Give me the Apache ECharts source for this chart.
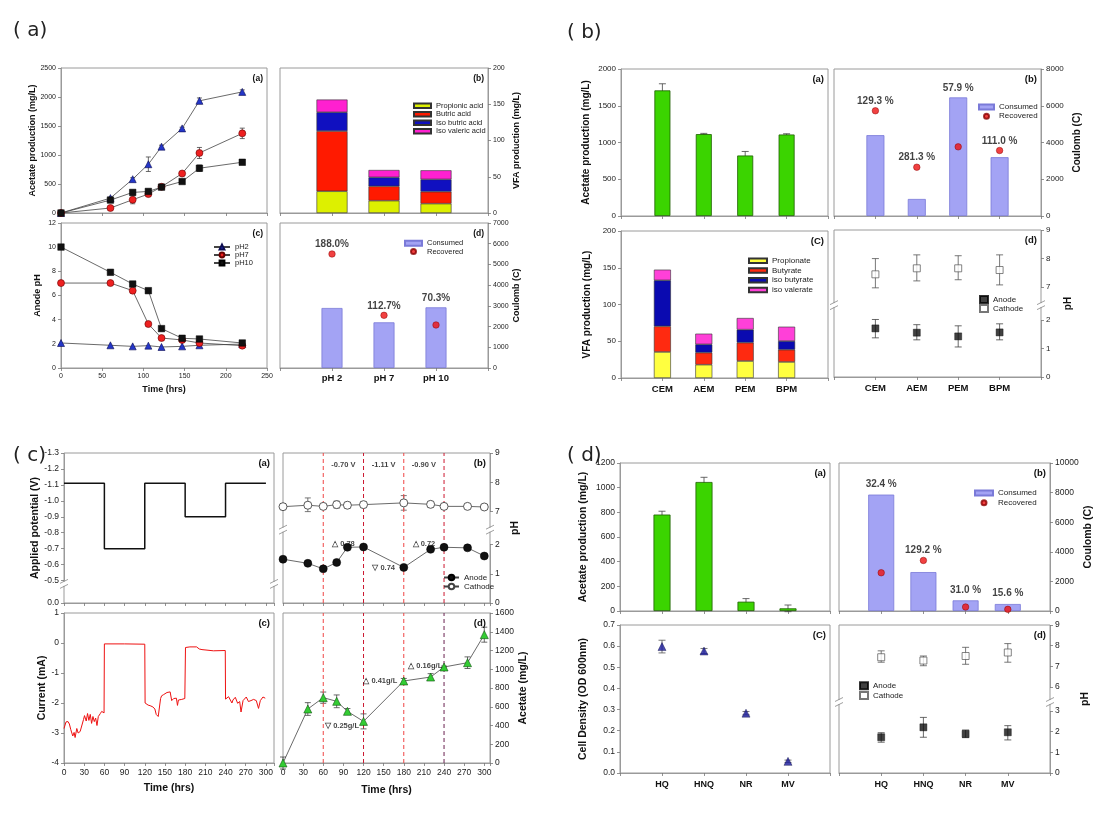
<!DOCTYPE html>
<html><head><meta charset="utf-8">
<script src="https://cdn.jsdelivr.net/npm/echarts@6.0.0/dist/echarts.min.js"></script>
<style>html,body{margin:0;padding:0;background:#fff}#c{width:1113px;height:814px}</style>
</head><body><div id="c"></div>
<script>
// ---------------- DATA: panel (a) ----------------
const aTime = [0, 60, 87, 106, 122, 147, 168, 220];
const aAcetatePH2 = [0, 257, 583, 841, 1144, 1459, 1934, 2088];
const aAcetatePH2Err = [0, 15, 25, 125, 25, 20, 50, 35];
const aAcetatePH7 = [0, 86, 229, 326, 452, 681, 1035, 1373];
const aAcetatePH7Err = [0, 10, 70, 30, 20, 25, 95, 90];
const aAcetatePH10 = [0, 223, 355, 372, 446, 543, 772, 875];
const aAcetatePH10Err = [0, 15, 20, 20, 20, 25, 55, 20];
const aAnodePH2 = [2.07, 1.88, 1.79, 1.85, 1.74, 1.79, 1.88, 1.98];
const aAnodePH7 = [7.03, 7.03, 6.4, 3.64, 2.48, 2.32, 2.07, 1.85];
const aAnodePH10 = [10.01, 7.92, 6.95, 6.4, 3.26, 2.46, 2.4, 2.07];
const aCats = ['pH 2', 'pH 7', 'pH 10'];
const aPropionic = [30, 17, 12.9];
const aButric = [83, 19.8, 16.5];
const aIsoButric = [26, 12.4, 17];
const aIsoValeric = [17.5, 10.1, 12.5];
const aConsumed = [2897, 2205, 2929];
const aRecovered = [5504, 2543, 2076];
const aPercent = ['188.0%', '112.7%', '70.3%'];

// ---------------- DATA: panel (b) ----------------
const bCats = ['CEM', 'AEM', 'PEM', 'BPM'];
const bAcetate = [1709, 1114, 823, 1109];
const bAcetateErr = [90, 10, 55, 10];
const bPropionate = [35.4, 18.1, 23.1, 21.8];
const bButyrate = [34.9, 16.4, 25, 16.7];
const bIsoButyrate = [62.6, 11.3, 17.7, 11.8];
const bIsoValerate = [14.5, 14.5, 15.8, 19.5];
const bConsumed = [4400, 927, 6455, 3200];
const bRecovered = [5727, 2655, 3764, 3564];
const bPercent = ['129.3 %', '281.3 %', '57.9 %', '111.0 %'];
const bCathode = [7.45, 7.66, 7.66, 7.6];
const bCathodeLo = [6.9, 7.22, 7.26, 7.08];
const bCathodeHi = [8.0, 8.13, 8.1, 8.13];
const bAnode = [1.70, 1.55, 1.42, 1.56];
const bAnodeLo = [1.37, 1.30, 1.05, 1.30];
const bAnodeHi = [2.05, 1.83, 1.79, 1.86];

// ---------------- DATA: panel (c) ----------------
const cPotTime = [0, 60, 60, 120, 120, 180, 180, 240, 240, 300];
const cPotential = [-1.11, -1.11, -0.70, -0.70, -1.11, -1.11, -0.90, -0.90, -1.11, -1.11];
const cCurTime = [0, 3, 6, 8, 10, 13, 15, 16.5, 19, 21, 24, 26, 29, 30.5, 33, 35, 37, 39, 41, 43, 45, 47, 49, 51, 54, 56, 59.5,
  60, 90, 120, 120.5, 125, 128, 132, 135, 137, 140, 142.5, 143.5, 145, 148, 150, 153, 155, 157.7, 160, 163, 165, 167, 168.6, 170, 175, 179.5,
  180.5, 187, 197, 201, 205, 222, 239.6, 240, 244.5, 247, 249.5, 251, 254.5, 258, 261, 263, 266, 270.8, 274, 277.8, 281.7, 285.7, 289, 291.7, 295.6, 299];
const cCurrent = [-2.85, -2.63, -2.62, -2.7, -2.88, -3.1, -2.98, -3.15, -2.85, -3.0, -2.95, -3.0, -2.55, -2.42, -2.6, -2.35, -2.58, -2.38, -2.68, -2.45, -2.62, -2.5, -2.75, -2.45, -2.35, -2.28, -2.33,
  -0.03, -0.03, -0.04, -2.0, -2.07, -2.09, -2.13, -2.2, -2.38, -2.45, -2.43, -1.85, -1.76, -1.72, -1.68, -1.65, -1.7, -1.63, -1.92, -1.85, -1.88, -1.84, -2.08, -1.9, -1.88, -1.85,
  -0.15, -0.13, -0.13, -0.2, -0.22, -0.26, -0.25, -1.87, -1.79, -1.84, -2.0, -1.9, -1.81, -2.01, -1.95, -2.3, -1.92, -1.8, -1.95, -1.92, -1.88, -1.92, -2.18, -1.92, -1.8, -1.84];
const cTime = [0, 37, 60, 80, 96, 120, 180, 220, 240, 275, 300];
const cCathode = [7.16, 7.21, 7.17, 7.23, 7.21, 7.23, 7.29, 7.24, 7.17, 7.17, 7.15];
const cCathodeErr = [0.05, 0.25, 0.05, 0.12, 0.1, 0.1, 0.25, 0.1, 0.03, 0.05, 0.08];
const cAnode = [1.50, 1.36, 1.17, 1.39, 1.91, 1.92, 1.22, 1.84, 1.91, 1.89, 1.61];
const cAcetate = [0, 576, 697, 658, 551, 444, 875, 917, 1024, 1070, 1369];
const cAcetateErr = [64, 68, 60, 68, 30, 80, 27, 36, 10, 62, 80];
const cSwitchTimes = [60, 120, 180, 240];
const cVoltNotes = ['-0.70 V', '-1.11 V', '-0.90 V'];
const cVoltNoteTime = [90, 150, 210];
const cVoltNotePH = [8.6, 8.6, 8.6];
const cPHNotes = ['\u25B3 0.78', '\u25BD 0.74', '\u25B3 0.72'];
const cPHNoteTime = [90, 150, 210];
const cPHNoteVal = [2.18, 1.2, 2.13];
const cAcNotes = ['\u25BD 0.25g/L', '\u25B3 0.41g/L', '\u25B3 0.16g/L'];
const cAcNoteTime = [88, 145, 212];
const cAcNoteVal = [395, 875, 1040];

// ---------------- DATA: panel (d) ----------------
const dCats = ['HQ', 'HNQ', 'NR', 'MV'];
const dAcetate = [782, 1046, 75.5, 21.6];
const dAcetateErr = [27, 38, 25, 27];
const dCell = [0.598, 0.577, 0.283, 0.055];
const dCellErr = [0.03, 0.012, 0.008, 0.006];
const dConsumed = [7865, 2629, 719, 472];
const dRecovered = [2584, 3416, 270, 112];
const dPercent = ['32.4 %', '129.2 %', '31.0 %', '15.6 %'];
const dCathode = [7.44, 7.28, 7.5, 7.67];
const dCathodeLo = [7.2, 7.03, 7.1, 7.2];
const dCathodeHi = [7.75, 7.5, 7.92, 8.1];
const dAnode = [1.73, 2.21, 1.89, 1.97];
const dAnodeLo = [1.49, 1.73, 1.71, 1.6];
const dAnodeHi = [1.95, 2.69, 2.08, 2.29];

// ---------------- LAYOUT ----------------
const F = '"Liberation Sans", Arial, Helvetica, sans-serif';
const G = {
  Aa: [61, 68, 206, 145], Ac: [61, 223, 206, 145], Ab: [280, 68, 208, 145], Ad: [280, 223, 208, 145],
  Ba: [621, 69, 207, 147], Bc: [621, 231, 207, 147], Bb: [834, 69, 207, 147], Bd: [834, 230, 207, 147],
  Ca: [64, 453, 210, 150], Cc: [64, 613, 210, 150], Cb: [283, 453, 207, 150], Cd: [283, 613, 207, 150],
  Da: [620, 463, 210, 148], Dc: [620, 625, 210, 148], Db: [839, 463, 211, 148], Dd: [839, 625, 211, 148]
};
const keys = Object.keys(G);
const gi = k => keys.indexOf(k);

function merge(a, b) {
  const r = Object.assign({}, a);
  for (const k in b) {
    if (b[k] && typeof b[k] === 'object' && !Array.isArray(b[k]) && a[k] && typeof a[k] === 'object' && !Array.isArray(a[k])) r[k] = merge(a[k], b[k]);
    else r[k] = b[k];
  }
  return r;
}
const padC = c => ['', ...c, ''];
const padV = v => [null, ...v, null];
const mult = (step, dec) => v => (Math.abs(v / step - Math.round(v / step)) < 1e-6 ? Number(v).toFixed(dec) : '');

function axis(k, fs, o) {
  return merge({
    gridIndex: gi(k),
    axisLine: { show: true, onZero: false, lineStyle: { color: '#9a9a9a', width: 1 } },
    axisTick: { show: true, inside: false, length: 3, lineStyle: { color: '#777', width: 0.8 } },
    splitLine: { show: false },
    axisLabel: { show: true, margin: 5, color: '#222', fontFamily: F, fontSize: fs, formatter: v => String(Math.round(v * 1e6) / 1e6) },
    nameLocation: 'middle',
    nameTextStyle: { fontFamily: F, fontWeight: 'bold', fontSize: fs + 2, color: '#111' }
  }, o);
}
function catX(k, fs, cats, showLbl, margin) {
  return axis(k, fs, { type: 'category', data: padC(cats), boundaryGap: false,
    axisTick: { interval: 0 },
    axisLabel: { show: showLbl, interval: 0, fontWeight: 'bold', fontSize: fs + 1.5, margin: margin || 6, color: '#111', formatter: v => v } });
}
// axis break whose ends sit on labelled ticks; gap given as share of the axis length
function brk(start, end, gap) {
  return { breaks: [{ start: start, end: end, gap: gap }],
    breakArea: { show: true, itemStyle: { color: 'rgba(255,255,255,0)', borderColor: 'rgba(255,255,255,0)', borderWidth: 0, opacity: 0 }, zigzagAmplitude: 0, expandOnClick: false } };
}
const breakMarks = [ // [grid key, value at break start, value at break end, where the // sits between them]
  ['Bd', 2, 7, 0.45], ['Ca', -0.5, 0, 0.15], ['Cb', 2, 7, 0.45], ['Dd', 3, 6, 0.375]
];

const xAxes = [], yAxes = [];
// panel (a)
xAxes.push(axis('Aa', 7, { type: 'value', min: 0, max: 250, interval: 50, axisLabel: { show: false } }));
yAxes.push(axis('Aa', 7, { type: 'value', min: 0, max: 2500, interval: 500, name: 'Acetate production (mg/L)', nameGap: 24 }));
xAxes.push(axis('Ac', 7, { type: 'value', min: 0, max: 250, interval: 50, name: 'Time (hrs)', nameGap: 17 }));
yAxes.push(axis('Ac', 7, { type: 'value', min: 0, max: 12, interval: 2, name: 'Anode pH', nameGap: 19 }));
xAxes.push(catX('Ab', 7, aCats, false));
yAxes.push(axis('Ab', 7, { type: 'value', position: 'right', min: 0, max: 200, interval: 50, name: 'VFA production (mg/L)', nameGap: 24 }));
xAxes.push(catX('Ad', 8, aCats, true, 5));
yAxes.push(axis('Ad', 7, { type: 'value', position: 'right', min: 0, max: 7000, interval: 1000, name: 'Coulomb (C)', nameGap: 24 }));
// panel (b)
xAxes.push(catX('Ba', 8, bCats, false));
yAxes.push(axis('Ba', 8, { type: 'value', min: 0, max: 2000, interval: 500, name: 'Acetate production (mg/L)', nameGap: 30 }));
xAxes.push(catX('Bc', 8, bCats, true, 6));
yAxes.push(axis('Bc', 8, { type: 'value', min: 0, max: 200, interval: 50, name: 'VFA production (mg/L)', nameGap: 29 }));
xAxes.push(catX('Bb', 8, bCats, false));
yAxes.push(axis('Bb', 8, { type: 'value', position: 'right', min: 0, max: 8000, interval: 2000, name: 'Coulomb (C)', nameGap: 31 }));
xAxes.push(catX('Bd', 8, bCats, true, 6));
yAxes.push(axis('Bd', 8, merge({ type: 'value', position: 'right', min: 0, max: 9, interval: 1, name: 'pH', nameGap: 22, axisLabel: { formatter: mult(1, 0) } }, brk(2, 7, '22.2%'))));
// panel (c)
xAxes.push(axis('Ca', 8.5, { type: 'value', min: 0, max: 312, interval: 30, axisLabel: { show: false } }));
yAxes.push(axis('Ca', 8.5, merge({ type: 'value', inverse: true, min: -1.3, max: 0, interval: 0.1, name: 'Applied potential (V)', nameGap: 22, axisLabel: { formatter: mult(0.1, 1) } }, brk(-0.5, 0, '15%'))));
xAxes.push(axis('Cc', 8.5, { type: 'value', min: 0, max: 312, interval: 30, name: 'Time (hrs)', nameGap: 20, axisLabel: { formatter: mult(30, 0) } }));
yAxes.push(axis('Cc', 8.5, { type: 'value', min: -4, max: 1, interval: 1, name: 'Current (mA)', nameGap: 16 }));
xAxes.push(axis('Cb', 8.5, { type: 'value', min: 0, max: 308.5, interval: 30, axisLabel: { show: false } }));
yAxes.push(axis('Cb', 8.5, merge({ type: 'value', position: 'right', min: 0, max: 9, interval: 1, name: 'pH', nameGap: 20, axisLabel: { formatter: mult(1, 0) } }, brk(2, 7, '22.2%'))));
xAxes.push(axis('Cd', 8.5, { type: 'value', min: 0, max: 308.5, interval: 30, name: 'Time (hrs)', nameGap: 22, axisLabel: { formatter: mult(30, 0) } }));
yAxes.push(axis('Cd', 8.5, { type: 'value', position: 'right', min: 0, max: 1600, interval: 200, name: 'Acetate (mg/L)', nameGap: 21 }));
// panel (d)
xAxes.push(catX('Da', 8.5, dCats, false));
yAxes.push(axis('Da', 8.5, { type: 'value', min: 0, max: 1200, interval: 200, name: 'Acetate production (mg/L)', nameGap: 31 }));
xAxes.push(catX('Dc', 7.5, dCats, true, 7));
yAxes.push(axis('Dc', 8.5, { type: 'value', min: 0, max: 0.7, interval: 0.1, name: 'Cell Density (OD 600nm)', nameGap: 31, axisLabel: { formatter: v => Number(v).toFixed(1) } }));
xAxes.push(catX('Db', 7.5, dCats, false));
yAxes.push(axis('Db', 8.5, { type: 'value', position: 'right', min: 0, max: 10000, interval: 2000, name: 'Coulomb (C)', nameGap: 29 }));
xAxes.push(catX('Dd', 7.5, dCats, true, 7));
yAxes.push(axis('Dd', 8.5, merge({ type: 'value', position: 'right', min: 0, max: 9, interval: 1, name: 'pH', nameGap: 30, axisLabel: { formatter: mult(1, 0) } }, brk(3, 6, '16.2%'))));

// ---------------- SERIES helpers ----------------
const series = [];
const on = k => ({ xAxisIndex: gi(k), yAxisIndex: gi(k) });
function errBars(k, pts, color, cap) {
  series.push(Object.assign({
    type: 'custom', z: 1, silent: true, data: pts, encode: { x: 0, y: [1, 2] },
    renderItem: (p, api) => {
      const x = api.value(0);
      const lo = api.coord([x, api.value(1)]), hi = api.coord([x, api.value(2)]);
      const c = cap || 3, st = { stroke: color || '#444', lineWidth: 0.8 };
      return { type: 'group', children: [
        { type: 'line', shape: { x1: lo[0], y1: lo[1], x2: hi[0], y2: hi[1] }, style: st },
        { type: 'line', shape: { x1: hi[0] - c, y1: hi[1], x2: hi[0] + c, y2: hi[1] }, style: st },
        { type: 'line', shape: { x1: lo[0] - c, y1: lo[1], x2: lo[0] + c, y2: lo[1] }, style: st }] };
    }
  }, on(k)));
}
const symErr = (xs, v, e) => xs.map((x, i) => [x, v[i] - e[i], v[i] + e[i]]);
const catErr = (v, e) => v.map((y, i) => [i + 1, y - e[i], y + e[i]]);
const catLoHi = (lo, hi) => lo.map((l, i) => [i + 1, l, hi[i]]);
const pairs = (xs, ys) => xs.map((x, i) => [x, ys[i]]);

const MK = {
  pH2: { symbol: 'triangle', symbolSize: 7, itemStyle: { color: '#2436c8', borderColor: '#0c0c50', borderWidth: 0.6 } },
  pH7: { symbol: 'circle', symbolSize: 7, itemStyle: { color: '#ee2020', borderColor: '#600', borderWidth: 0.6 } },
  pH10: { symbol: 'rect', symbolSize: 6.5, itemStyle: { color: '#111', borderColor: '#000', borderWidth: 0.5 } }
};
function lineS(k, name, data, mk, extra) {
  series.push(Object.assign({ type: 'line', name: name, data: data, showSymbol: true, lineStyle: { color: '#444', width: 0.8 }, z: 3 }, mk, on(k), extra || {}));
}
function stackBars(k, stack, names, arrs, colors, w) {
  names.forEach((n, i) => series.push(Object.assign({ type: 'bar', name: n, stack: stack, barWidth: w, data: padV(arrs[i]),
    itemStyle: { color: colors[i], borderColor: '#333', borderWidth: 0.6 } }, on(k))));
}
function coulomb(k, cons, rec, pct, w, dist) {
  series.push(Object.assign({ type: 'bar', name: 'Consumed', barWidth: w, data: padV(cons),
    itemStyle: { color: '#a3a3f4', borderColor: '#7a7ad8', borderWidth: 0.8 } }, on(k)));
  series.push(Object.assign({ type: 'scatter', name: 'Recovered', symbol: 'circle', symbolSize: 6.5, data: padV(rec), z: 4,
    itemStyle: { color: '#ee1111', borderColor: '#880000', borderWidth: 0.6 } }, on(k)));
  series.push(Object.assign({ type: 'scatter', symbolSize: 1, silent: true, z: 5, data: padV(cons.map((c, i) => Math.max(c, rec[i]))),
    itemStyle: { color: 'rgba(0,0,0,0)' },
    label: { show: true, position: 'top', distance: dist, formatter: p => pct[p.dataIndex - 1], fontFamily: F, fontWeight: 'bold', fontSize: 10, color: '#111' } }, on(k)));
}
function greenBars(k, vals, errs, w) {
  series.push(Object.assign({ type: 'bar', barWidth: w, data: padV(vals), z: 2,
    itemStyle: { color: '#3bd400', borderColor: '#1e5e00', borderWidth: 0.8 } }, on(k)));
  errBars(k, catErr(vals, errs), '#444', 3.5);
}
function electrodes(k, an, anLo, anHi, ca, caLo, caHi) {
  errBars(k, catLoHi(anLo, anHi), '#444', 3.5);
  errBars(k, catLoHi(caLo, caHi), '#555', 3.5);
  series.push(Object.assign({ type: 'scatter', name: 'Anode', symbol: 'rect', symbolSize: 7, data: padV(an), z: 4,
    itemStyle: { color: '#111', borderColor: '#000', borderWidth: 0.5 } }, on(k)));
  series.push(Object.assign({ type: 'scatter', name: 'Cathode', symbol: 'rect', symbolSize: 7, data: padV(ca), z: 4,
    itemStyle: { color: '#fff', borderColor: '#555', borderWidth: 0.9 } }, on(k)));
}
function notes(k, xs, ys, texts, fs) {
  series.push(Object.assign({ type: 'scatter', symbolSize: 1, silent: true, z: 6, data: pairs(xs, ys),
    itemStyle: { color: 'rgba(0,0,0,0)' },
    label: { show: true, position: 'inside', formatter: p => texts[p.dataIndex], fontFamily: F, fontWeight: 'bold', fontSize: fs, color: '#111' } }, on(k)));
}
// dashed vertical lines at the potential switch times, spanning the full value range of the axis
function switchLines(k, yMin, yMax, colors) {
  cSwitchTimes.forEach((t, i) => series.push(Object.assign({ type: 'line', silent: true, showSymbol: false, symbol: 'none', z: 1,
    data: [[t, yMin], [t, yMax]], itemStyle: { color: colors[i] }, lineStyle: { type: [4, 3], width: 1, color: colors[i] } }, on(k))));
}

// ---------------- SERIES: panel (a) ----------------
errBars('Aa', symErr(aTime, aAcetatePH2, aAcetatePH2Err), '#444', 2.5);
errBars('Aa', symErr(aTime, aAcetatePH7, aAcetatePH7Err), '#444', 2.5);
errBars('Aa', symErr(aTime, aAcetatePH10, aAcetatePH10Err), '#444', 2.5);
lineS('Aa', 'pH2', pairs(aTime, aAcetatePH2), MK.pH2);
lineS('Aa', 'pH7', pairs(aTime, aAcetatePH7), MK.pH7);
lineS('Aa', 'pH10', pairs(aTime, aAcetatePH10), MK.pH10);
lineS('Ac', 'pH2', pairs(aTime, aAnodePH2), MK.pH2);
lineS('Ac', 'pH7', pairs(aTime, aAnodePH7), MK.pH7);
lineS('Ac', 'pH10', pairs(aTime, aAnodePH10), MK.pH10);
stackBars('Ab', 'vfaA', ['Propionic acid', 'Butric acid', 'Iso butric acid', 'Iso valeric acid'],
  [aPropionic, aButric, aIsoButric, aIsoValeric], ['#ddf000', '#ff1a00', '#1010c0', '#ff20d0'], 31);
coulomb('Ad', aConsumed, aRecovered, aPercent, 21, 4);

// ---------------- SERIES: panel (b) ----------------
greenBars('Ba', bAcetate, bAcetateErr, 16);
stackBars('Bc', 'vfaB', ['Propionate', 'Butyrate', 'iso butyrate', 'iso valerate'],
  [bPropionate, bButyrate, bIsoButyrate, bIsoValerate], ['#ffff40', '#ff2a10', '#0a0ab0', '#ff40d8'], 17);
coulomb('Bb', bConsumed, bRecovered, bPercent, 18, 4);
electrodes('Bd', bAnode, bAnodeLo, bAnodeHi, bCathode, bCathodeLo, bCathodeHi);

// ---------------- SERIES: panel (c) ----------------
lineS('Ca', 'potential', pairs(cPotTime, cPotential), { showSymbol: false, symbol: 'none' }, { lineStyle: { color: '#111', width: 1.5 } });
lineS('Cc', 'current', pairs(cCurTime, cCurrent), { showSymbol: false, symbol: 'none' }, { lineStyle: { color: '#ee1111', width: 1 } });
switchLines('Cb', 0, 9, ['#f04545', '#cc1830', '#f04545', '#cc1830']);
errBars('Cb', symErr(cTime, cCathode, cCathodeErr), '#555', 3);
lineS('Cb', 'Anode ', pairs(cTime, cAnode), { symbol: 'circle', symbolSize: 8, itemStyle: { color: '#111', borderColor: '#000', borderWidth: 0.5 } });
lineS('Cb', 'Cathode ', pairs(cTime, cCathode), { symbol: 'circle', symbolSize: 8, itemStyle: { color: '#fff', borderColor: '#444', borderWidth: 0.9 } });
notes('Cb', cVoltNoteTime, cVoltNotePH, cVoltNotes, 7.5);
notes('Cb', cPHNoteTime, cPHNoteVal, cPHNotes, 7.5);
switchLines('Cd', 0, 1600, ['#f04545', '#cc1830', '#f04545', '#6a2050']);
errBars('Cd', symErr(cTime, cAcetate, cAcetateErr), '#444', 3);
lineS('Cd', 'acetateC', pairs(cTime, cAcetate), { symbol: 'triangle', symbolSize: 8, itemStyle: { color: '#33cc33', borderColor: '#125512', borderWidth: 0.6 } });
notes('Cd', cAcNoteTime, cAcNoteVal, cAcNotes, 7.5);

// ---------------- SERIES: panel (d) ----------------
greenBars('Da', dAcetate, dAcetateErr, 17);
errBars('Dc', catErr(dCell, dCellErr), '#555', 3.5);
series.push(Object.assign({ type: 'scatter', symbol: 'triangle', symbolSize: 8, data: padV(dCell), z: 4,
  itemStyle: { color: '#1a1a9c', borderColor: '#0a0a40', borderWidth: 0.5 } }, on('Dc')));
coulomb('Db', dConsumed, dRecovered, dPercent, 26, 5);
electrodes('Dd', dAnode, dAnodeLo, dAnodeHi, dCathode, dCathodeLo, dCathodeHi);

// ---------------- LEGENDS ----------------
function legend(names, left, top, lh, o) {
  return merge({ show: true, left: left, top: top, orient: 'vertical', itemGap: 0, itemWidth: 16, itemHeight: 6, padding: 0,
    data: names, selectedMode: false, formatter: n => n.trim(),
    textStyle: { fontFamily: F, fontSize: 7.5, color: '#222', lineHeight: lh, height: lh } }, o || {});
}
const cr = [{ name: 'Consumed', icon: 'rect' }, { name: 'Recovered', icon: 'circle' }];
const legends = [
  legend(['pH2', 'pH7', 'pH10'], 213, 243, 7.7, { itemHeight: 6 }),
  legend(['Propionic acid', 'Butric acid', 'Iso butric acid', 'Iso valeric acid'].map(n => ({ name: n, icon: 'rect' })), 413, 101.5, 8.5, { itemWidth: 17, itemHeight: 4.5 }),
  legend(cr, 404, 239, 8.4, { itemWidth: 17, itemHeight: 5 }),
  legend(['Propionate', 'Butyrate', 'iso butyrate', 'iso valerate'].map(n => ({ name: n, icon: 'rect' })), 748, 256, 9.7, { itemWidth: 18, itemHeight: 4.5, textStyle: { fontSize: 8 } }),
  legend(cr, 978, 102.5, 9.1, { itemWidth: 15, itemHeight: 5, textStyle: { fontSize: 8 } }),
  legend(['Anode', 'Cathode'], 979, 295, 9, { itemWidth: 8, itemHeight: 7, textStyle: { fontSize: 8 } }),
  legend(['Anode ', 'Cathode '], 443, 573, 9, { itemWidth: 15, itemHeight: 7, textStyle: { fontSize: 8 } }),
  legend(cr, 974, 488, 9.8, { itemWidth: 18, itemHeight: 5, textStyle: { fontSize: 8 } }),
  legend(['Anode', 'Cathode'], 859, 681, 9.6, { itemWidth: 8, itemHeight: 7, textStyle: { fontSize: 8 } })
];

// ---------------- TEXT LABELS ----------------
const subLabels = { Aa: '(a)', Ac: '(c)', Ab: '(b)', Ad: '(d)', Ba: '(a)', Bc: '(C)', Bb: '(b)', Bd: '(d)',
  Ca: '(a)', Cc: '(c)', Cb: '(b)', Cd: '(d)', Da: '(a)', Dc: '(C)', Db: '(b)', Dd: '(d)' };
const graphics = keys.map(k => ({ type: 'text', x: G[k][0] + G[k][2] - 4, y: G[k][1] + 10.5, z: 50,
  style: { text: subLabels[k], align: 'right', verticalAlign: 'middle', fontFamily: F, fontWeight: 'bold', fontSize: k[0] === 'A' ? 8.5 : 9.5, fill: '#111' } }));
const panelLabels = [['( a)', 13, 31], ['( b)', 567, 33], ['( c)', 13, 456], ['( d)', 567, 456]];
panelLabels.forEach(p => graphics.push({ type: 'text', x: p[1], y: p[2], z: 50,
  style: { text: p[0], align: 'left', verticalAlign: 'middle', fontFamily: '"DejaVu Sans", sans-serif', fontSize: 20, fill: '#222' } }));

const chart = echarts.init(document.getElementById('c'), null, { renderer: 'canvas' });
chart.setOption({
  animation: false,
  backgroundColor: '#fff',
  grid: keys.map(k => ({ left: G[k][0], top: G[k][1], width: G[k][2], height: G[k][3], show: true, borderColor: '#9a9a9a', borderWidth: 1, backgroundColor: 'rgba(0,0,0,0)' })),
  xAxis: xAxes,
  yAxis: yAxes,
  legend: legends,
  series: series,
  graphic: graphics
});

// "//" marks where the broken value axes jump, placed through the axis scale
breakMarks.forEach(([k, s, e, f]) => {
  const ps = chart.convertToPixel({ yAxisIndex: gi(k) }, s);
  const pe = chart.convertToPixel({ yAxisIndex: gi(k) }, e);
  const y = ps + (pe - ps) * f;
  [G[k][0], G[k][0] + G[k][2]].forEach(x => {
    graphics.push({ type: 'rect', z: 60, shape: { x: x - 4, y: y - 2, width: 8, height: 4 }, style: { fill: '#fff' } });
    graphics.push({ type: 'line', z: 61, shape: { x1: x - 4, y1: y - 0.5, x2: x + 4, y2: y - 4.5 }, style: { stroke: '#888', lineWidth: 0.8 } });
    graphics.push({ type: 'line', z: 61, shape: { x1: x - 4, y1: y + 4.5, x2: x + 4, y2: y + 0.5 }, style: { stroke: '#888', lineWidth: 0.8 } });
  });
});
chart.setOption({ graphic: graphics });
</script></body></html>
